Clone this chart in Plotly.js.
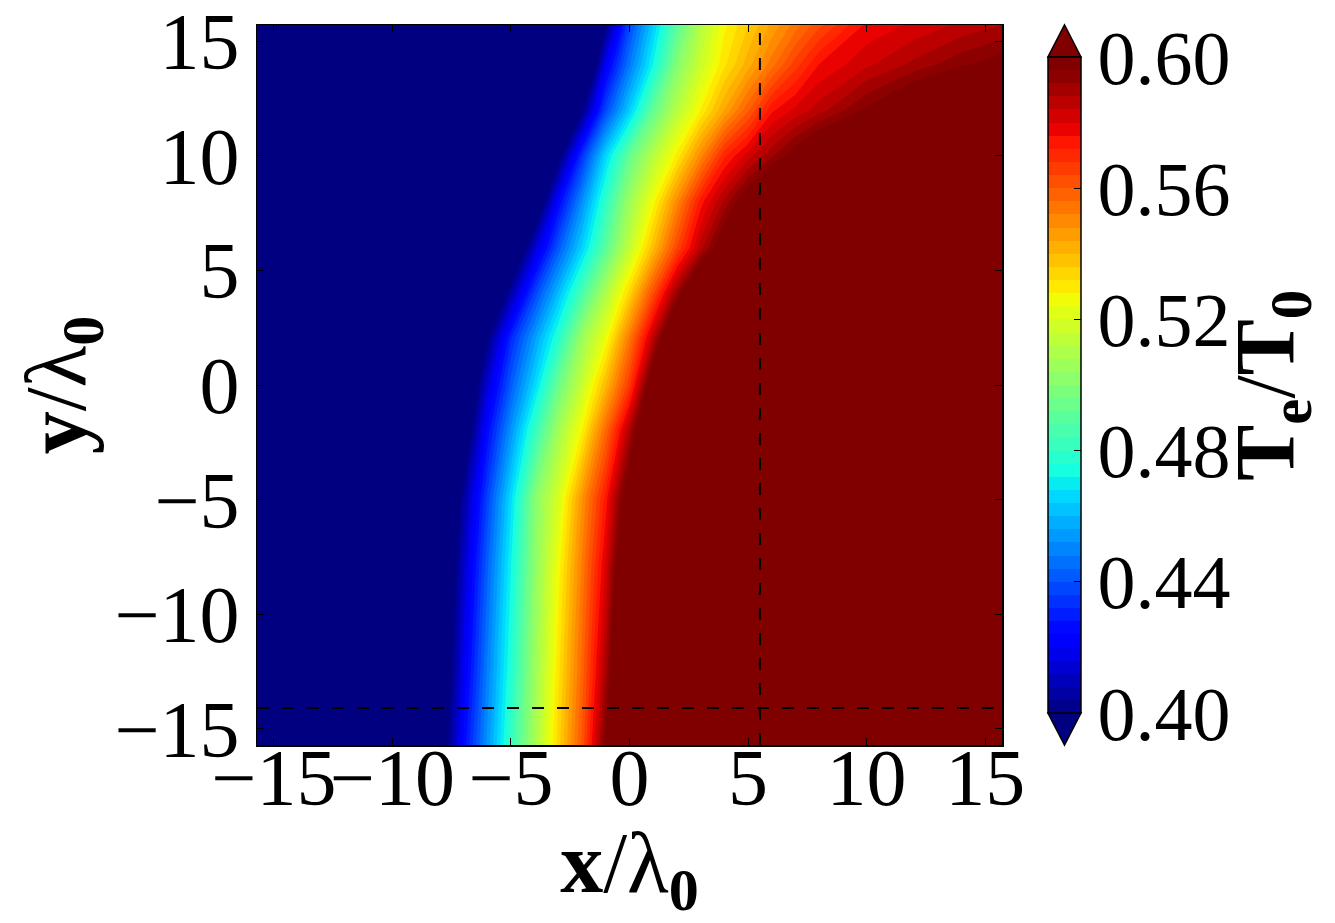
<!DOCTYPE html>
<html>
<head>
<meta charset="utf-8">
<script src="https://cdn.plot.ly/plotly-3.0.1.min.js"></script>
<style>html,body{margin:0;padding:0;background:#fff;}#chart{width:1335px;height:923px;}</style>
</head>
<body>
<div id="chart"></div>
<script>
// grid coordinates (x/λ0, y/λ0)
const xGrid = [-15.71, -9, -8, -7, -6, -5, -4, -3, -2, -1, 0, 1, 2, 3, 4, 5, 6, 7, 8, 10, 12, 14, 15.71];
const yGrid = [-15.71, -12, -8, -5, -2, 0, 2, 4, 6, 8, 10, 12, 14, 15.71];

// Te/T0 values, one row per yGrid value
const rowYm157 = [.37,.37,.389,.425,.453,.481,.508,.534,.561,.598,.63,.63,.63,.63,.63,.63,.63,.63,.63,.63,.63,.63,.63];
const rowYm12  = [.37,.37,.382,.418,.448,.476,.505,.530,.557,.588,.629,.63,.63,.63,.63,.63,.63,.63,.63,.63,.63,.63,.63];
const rowYm8   = [.37,.37,.378,.412,.443,.472,.502,.526,.553,.581,.619,.63,.63,.63,.63,.63,.63,.63,.63,.63,.63,.63,.63];
const rowYm5   = [.37,.37,.372,.405,.437,.467,.500,.520,.548,.574,.607,.63,.63,.63,.63,.63,.63,.63,.63,.63,.63,.63,.63];
const rowYm2   = [.37,.37,.37,.389,.425,.453,.481,.507,.528,.557,.588,.619,.63,.63,.63,.63,.63,.63,.63,.63,.63,.63,.63];
const rowY0    = [.37,.37,.37,.379,.414,.442,.466,.494,.516,.540,.567,.607,.63,.63,.63,.63,.63,.63,.63,.63,.63,.63,.63];
const rowY2    = [.37,.37,.37,.37,.40,.432,.455,.478,.506,.525,.554,.586,.621,.63,.63,.63,.63,.63,.63,.63,.63,.63,.63];
const rowY4    = [.37,.37,.37,.37,.371,.407,.437,.461,.486,.510,.534,.563,.592,.619,.63,.63,.63,.63,.63,.63,.63,.63,.63];
const rowY6    = [.37,.37,.37,.37,.37,.378,.413,.441,.465,.490,.515,.539,.564,.586,.604,.621,.63,.63,.63,.63,.63,.63,.63];
const rowY8    = [.37,.37,.37,.37,.37,.37,.384,.424,.452,.480,.506,.526,.550,.574,.589,.603,.617,.63,.63,.63,.63,.63,.63];
const rowY10   = [.37,.37,.37,.37,.37,.37,.37,.396,.434,.466,.4925,.512,.529,.550,.571,.582,.591,.600,.609,.627,.63,.63,.63];
const rowY12   = [.37,.37,.37,.37,.37,.37,.37,.37,.40,.438,.464,.492,.512,.528,.544,.559,.575,.581,.586,.597,.608,.62,.63];
const rowY14   = [.37,.37,.37,.37,.37,.37,.37,.37,.37,.42,.4475,.4725,.50,.517,.531,.542,.554,.566,.576,.583,.589,.595,.599];
const rowY157  = [.37,.37,.37,.37,.37,.37,.37,.37,.37,.40,.438,.464,.49,.511,.527,.536,.545,.554,.563,.577,.581,.585,.588];

const axisTicks = [-15, -10, -5, 0, 5, 10, 15];
const cbTicks = [0.40, 0.44, 0.48, 0.52, 0.56, 0.60];
const cbTickText = ['0.40', '0.44', '0.48', '0.52', '0.56', '0.60'];
const crossX = 5.5;    // vertical dashed line
const crossY = -14.1;  // horizontal dashed line

const zRows = [rowYm157, rowYm12, rowYm8, rowYm5, rowYm2, rowY0, rowY2, rowY4, rowY6, rowY8, rowY10, rowY12, rowY14, rowY157];

// matplotlib "jet"
const jet = [
  [0, 'rgb(0,0,128)'], [0.11, 'rgb(0,0,255)'], [0.125, 'rgb(0,0,255)'],
  [0.34, 'rgb(0,219,255)'], [0.35, 'rgb(0,229,247)'], [0.375, 'rgb(21,255,226)'],
  [0.64, 'rgb(238,255,8)'], [0.65, 'rgb(247,246,0)'], [0.66, 'rgb(255,236,0)'],
  [0.89, 'rgb(255,19,0)'], [0.91, 'rgb(232,0,0)'], [1, 'rgb(128,0,0)']
];

const FONT = 'Liberation Serif, DejaVu Serif, serif';
const R = Math.max(...xGrid);
const TICKSIZE = 80;
const TITLESIZE = 86;

const trace = {
  type: 'contour',
  x: xGrid, y: yGrid, z: zRows,
  colorscale: jet,
  zmin: 0.4, zmax: 0.6,
  autocontour: false,
  contours: {start: 0.4, end: 0.6, size: 0.004, coloring: 'fill', showlines: false},
  line: {width: 0, smoothing: 0},
  hoverinfo: 'skip',
  colorbar: {
    x: 1.0617, xanchor: 'left', xpad: 0,
    y: 0.5, yanchor: 'middle', ypad: 0,
    len: 0.911, lenmode: 'fraction',
    thickness: 33, thicknessmode: 'pixels',
    outlinewidth: 1.5, outlinecolor: '#000',
    ticks: 'inside', ticklen: 7, tickwidth: 1, tickcolor: '#000',
    tickmode: 'array', tickvals: cbTicks, ticktext: cbTickText,
    tickfont: {family: FONT, size: 76, color: '#000'}
  }
};

const layout = {
  width: 1335, height: 923,
  margin: {l: 257, r: 333, t: 25, b: 178, pad: 0},
  paper_bgcolor: '#fff', plot_bgcolor: '#fff',
  showlegend: false,
  xaxis: {
    range: [-R, R], tickmode: 'array', tickvals: axisTicks, tickangle: 0,
    ticklabeloverflow: 'allow', ticklabelstandoff: -38,
    ticks: 'inside', ticklen: 7, tickwidth: 1, tickcolor: '#000',
    showline: true, linecolor: '#000', linewidth: 1.5, mirror: 'ticks',
    showgrid: false, zeroline: false,
    tickfont: {family: FONT, size: TICKSIZE, color: '#000'},
    title: {text: '<b>x</b>/λ<sub><b>0</b></sub>', font: {family: FONT, size: TITLESIZE, color: '#000'}, standoff: 0}
  },
  yaxis: {
    range: [-R, R], tickmode: 'array', tickvals: axisTicks, tickangle: 0,
    ticklabeloverflow: 'allow',
    ticks: 'inside', ticklen: 7, tickwidth: 1, tickcolor: '#000',
    showline: true, linecolor: '#000', linewidth: 1.5, mirror: 'ticks',
    showgrid: false, zeroline: false,
    tickfont: {family: FONT, size: TICKSIZE, color: '#000'},
    title: {text: '<b>y</b>/λ<sub><b>0</b></sub>', font: {family: FONT, size: TITLESIZE, color: '#000'}, standoff: 0}
  },
  annotations: [
    {xref: 'paper', yref: 'paper', x: 1.362, y: 0.5, xanchor: 'center', yanchor: 'middle',
     textangle: -90, showarrow: false,
     text: '<b>T</b><sub><b>e</b></sub>/<b>T</b><sub><b>0</b></sub>',
     font: {family: FONT, size: 84, color: '#000'}}
  ],
  shapes: [
    {type: 'line', xref: 'x', yref: 'paper', x0: crossX, x1: crossX, y0: 0, y1: 1,
     line: {color: '#000', width: 2, dash: '12px,13px'}},
    {type: 'line', xref: 'paper', yref: 'y', x0: 0, x1: 1, y0: crossY, y1: crossY,
     line: {color: '#000', width: 2, dash: '12px,13px'}},
    // colorbar extension triangles
    {type: 'path', xref: 'paper', yref: 'paper',
     path: 'M 1.0617 0.9556 L 1.0839 1.0 L 1.1060 0.9556 Z',
     fillcolor: 'rgb(128,0,0)', line: {color: '#000', width: 1.5}},
    {type: 'path', xref: 'paper', yref: 'paper',
     path: 'M 1.0617 0.0444 L 1.0839 0.0 L 1.1060 0.0444 Z',
     fillcolor: 'rgb(0,0,128)', line: {color: '#000', width: 1.5}}
  ]
};

Plotly.newPlot('chart', [trace], layout, {displayModeBar: false, staticPlot: true});
</script>
</body>
</html>
